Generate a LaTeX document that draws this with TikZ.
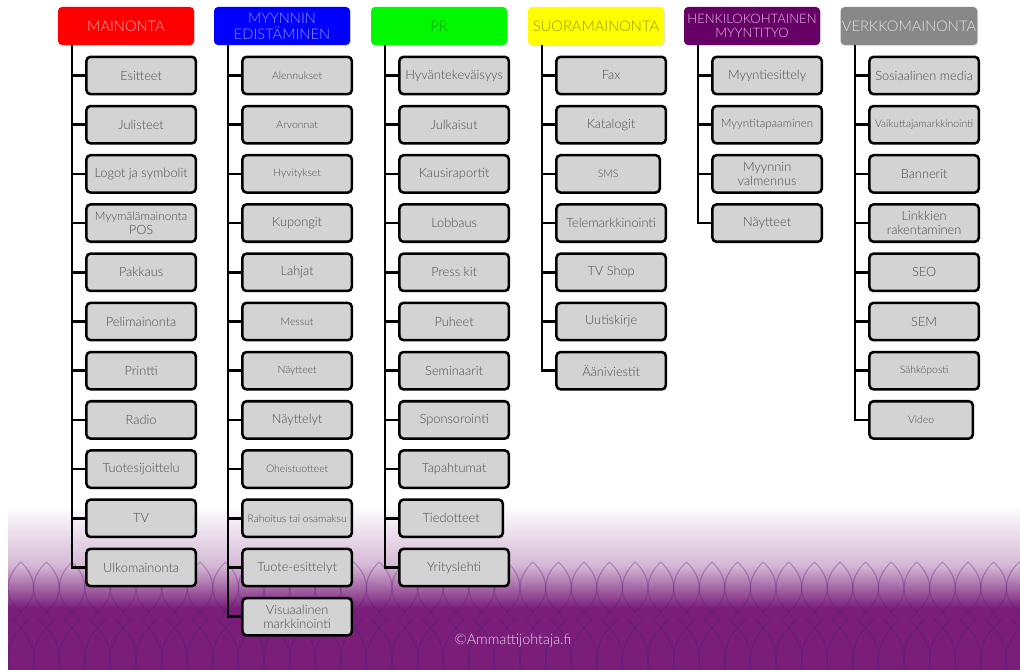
\documentclass[tikz,border=0pt]{standalone}
\usepackage{fontspec}
\setmainfont{Lato Light}
\usetikzlibrary{shadows}
\definecolor{boxgray}{HTML}{D3D3D3}
\definecolor{txtgray}{HTML}{4E4E4E}
\definecolor{purp}{RGB}{122,30,122}
\definecolor{fishc}{RGB}{85,30,125}
\definecolor{hred}{HTML}{FF0000}
\definecolor{hblue}{HTML}{0000FF}
\definecolor{hgreen}{HTML}{00F800}
\definecolor{hyellow}{HTML}{FFFF00}
\definecolor{hpurple}{HTML}{660066}
\definecolor{hgray}{HTML}{888888}
\definecolor{footc}{HTML}{E8D2E8}
\begin{document}
\begin{tikzpicture}[x=0.75pt,y=-0.75pt,
  hdr/.style={rounded corners=3pt, minimum width=102pt, minimum height=28.5pt,
    inner sep=1pt, align=center, font=\fontsize{11}{12}\selectfont,
    drop shadow={shadow xshift=0.6pt, shadow yshift=-0.8pt, opacity=0.25}},
  item/.style={draw=black, line width=1.9pt, fill=boxgray, rounded corners=3pt,
    minimum width=82pt, minimum height=28pt, inner sep=1pt, align=center,
    text=txtgray, anchor=west,
    drop shadow={shadow xshift=0.6pt, shadow yshift=-0.8pt, opacity=0.2}},
  itn/.style={font=\fontsize{9.6}{10.8}\selectfont},
  its/.style={font=\fontsize{7.8}{8.8}\selectfont},
  itm/.style={font=\fontsize{8.6}{9.5}\selectfont},
  itnN/.style={itn, minimum width=77.5pt},
  itsN/.style={its, minimum width=77.5pt},
  sz/.code={\edef\szlist{#1}\expandafter\pgfkeysalso\expandafter{\szlist}},
  conn/.style={draw=black, line width=1.9pt},
  fish/.style={draw=fishc, line width=0.8pt}]
\useasboundingbox (0,0) rectangle (1020,670);
% background
\fill[white] (0,0) rectangle (1020,670);
\shade[top color=white, bottom color=purp!32] (8,505) rectangle (1020,566);
\shade[top color=purp!32, bottom color=purp] (8,565.5) rectangle (1020,608);
\fill[purp] (8,607.5) rectangle (1020,670);
\begin{scope}
\clip (8,545) rectangle (1020,670);
\foreach \k in {0,...,39} {
  \pgfmathsetmacro\xx{8+12.8+25.6*\k}
  \draw[fish, opacity=0.33] (\xx,562) .. controls (\xx-17,578) and (\xx-17,598) .. (\xx,612)
     .. controls (\xx+17,598) and (\xx+17,578) .. (\xx,562);
  \draw[fish, opacity=0.33] (\xx-3,617) -- (\xx,610) -- (\xx+3,617);
  \draw[fish, opacity=0.5] (\xx,628) .. controls (\xx-17,644) and (\xx-17,674) .. (\xx,690)
     .. controls (\xx+17,674) and (\xx+17,644) .. (\xx,628);
  \draw[fish, opacity=0.5] (\xx-8,619) -- (\xx,628) -- (\xx+8,619);
}
\end{scope}
% headers
\node[hdr, fill=hred, text={rgb,255:red,255;green,178;blue,178}] (hA) at (126,26) {MAINONTA};
\node[hdr, fill=hblue, text={rgb,255:red,150;green,150;blue,255}] (hB) at (282,26) {MYYNNIN\\EDISTÄMINEN};
\node[hdr, fill=hgreen, text={rgb,255:red,0;green,150;blue,0}] (hC) at (439,26) {PR};
\node[hdr, fill=hyellow, text={rgb,255:red,150;green,150;blue,0}] (hD) at (596,26) {SUORAMAINONTA};
\node[hdr, fill=hpurple, text={rgb,255:red,230;green,190;blue,230}, font=\fontsize{9.8}{10}\selectfont] (hE) at (752,26) {HENKILOKOHTAINEN\\MYYNTITYO};
\node[hdr, fill=hgray, text={rgb,255:red,225;green,225;blue,225}] (hF) at (909,26) {VERKKOMAINONTA};
% columns
\newcommand\mkcolumn[3]{%
  \coordinate (t#1) at (#2+14,45);
  \foreach \t/\s [count=\i from 0] in {#3} {
    \node[item, sz=\s] (#1-\i) at (#2+27.2, 75.5+49.2*\i) {\t};
    \draw[conn] (#1-\i.west) -| (t#1);
  }
}
\mkcolumn{A}{58}{Esitteet/itn, Julisteet/itn, Logot ja symbolit/itn,
  {{\fontsize{8.8}{9.6}\selectfont Myymälämainonta}\\POS}/itn, Pakkaus/itn, Pelimainonta/itn,
  Printti/itn, Radio/itn, Tuotesijoittelu/itn, TV/itn, Ulkomainonta/itn}
\mkcolumn{B}{214}{Alennukset/its, Arvonnat/its, Hyvitykset/its, Kupongit/itn, Lahjat/itn,
  Messut/its, Näytteet/its, Näyttelyt/itn, Oheistuotteet/its, Rahoitus tai osamaksu/its,
  Tuote-esittelyt/itn, {Visuaalinen\\markkinointi}/itn}
\mkcolumn{C}{371}{Hyväntekeväisyys/itn, Julkaisut/itn, Kausiraportit/itn, Lobbaus/itn,
  Press kit/itn, Puheet/itn, Seminaarit/itn, Sponsorointi/itn, Tapahtumat/itn,
  Tiedotteet/itnN, Yrityslehti/itn}
\mkcolumn{D}{528}{Fax/itn, Katalogit/itn, SMS/itsN, Telemarkkinointi/itn, TV Shop/itn,
  Uutiskirje/itn, Ääniviestit/itn}
\mkcolumn{E}{684}{Myyntiesittely/itn, Myyntitapaaminen/itm, {Myynnin\\valmennus}/itn, Näytteet/itn}
\mkcolumn{F}{841}{Sosiaalinen media/itn, Vaikuttajamarkkinointi/its, Bannerit/itn,
  {Linkkien\\rakentaminen}/itn, SEO/itn, SEM/itn, Sähköposti/its, Video/itsN}
% footer
\node[text=footc, font=\fontsize{10.8}{12}\selectfont] (foot) at (513,641) {©Ammattijohtaja.fi};
\end{tikzpicture}
\end{document}
